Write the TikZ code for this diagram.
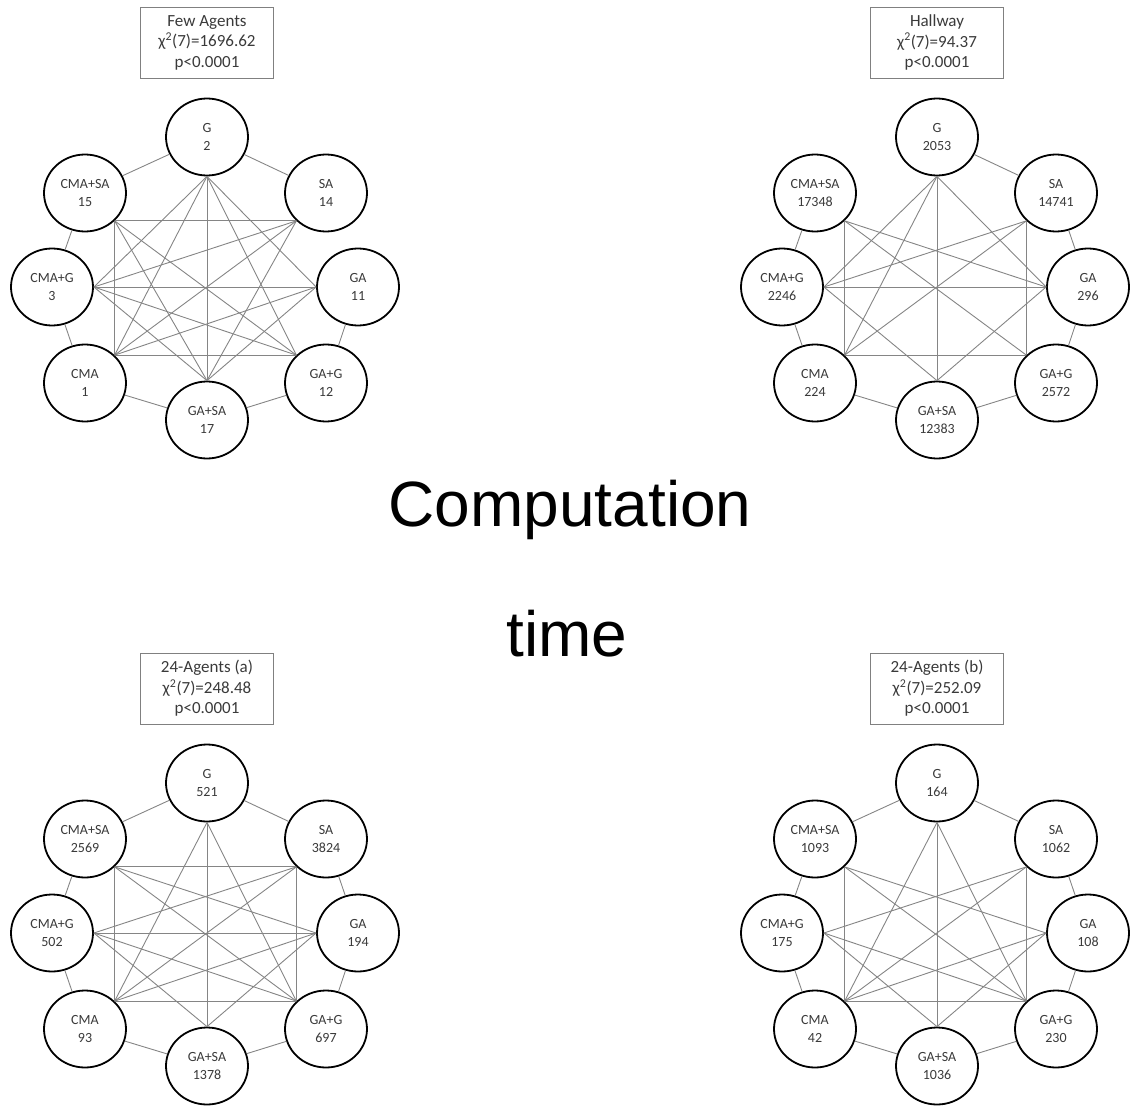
\documentclass[tikz,border=0pt]{standalone}
\usepackage{fontspec}
\setmainfont{Carlito}
\newfontfamily\bigsans{Liberation Sans}
\usetikzlibrary{shapes.geometric}
\definecolor{linkgray}{HTML}{858585}
\definecolor{boxgray}{HTML}{808080}
\definecolor{txtgray}{HTML}{3A3A3A}

\begin{document}
\begin{tikzpicture}[x=1pt, y=-1pt,
    every node/.style={text=txtgray},
    agent/.style={ellipse, draw=black, line width=1.8pt, fill=white, minimum width=82pt, minimum height=77pt, inner sep=0pt, align=center, font=\fontsize{14}{18}\selectfont},
    statbox/.style={draw=boxgray, line width=0.9pt, minimum width=133pt, minimum height=71pt, inner sep=0pt, align=center, font=\fontsize{17}{20.5}\selectfont},
    link/.style={draw=linkgray, line width=0.9pt}]
  \useasboundingbox (0,0) rectangle (1132,1110);
  % Four panels: stats box, then the eight agents round the ring
  \foreach \pfx/\ox/\oy/\ttl/\stat/\vg/\vsa/\vga/\vgag/\vgasa/\vcma/\vcmag/\vcmasa in {
      tl/0/0/{Few Agents}/1696.62/2/14/11/12/17/1/3/15,
      tr/730/0/{Hallway}/94.37/2053/14741/296/2572/12383/224/2246/17348,
      bl/0/646/{24-Agents (a)}/248.48/521/3824/194/697/1378/93/502/2569,
      br/730/646/{24-Agents (b)}/252.09/164/1062/108/230/1036/42/175/1093} {
    \begin{scope}[shift={(\ox,\oy)}, name prefix=\pfx-]
      \node[statbox] (title) at (207,42.5) {\ttl\\χ\textsuperscript{2}(7)=\stat\\p<0.0001};
      \node[agent] (g)     at (207,137) {G\\\vg};
      \node[agent] (sa)    at (326,193) {SA\\\vsa};
      \node[agent] (ga)    at (358,287) {GA\\\vga};
      \node[agent] (gag)   at (326,383) {GA+G\\\vgag};
      \node[agent] (gasa)  at (207,420) {GA+SA\\\vgasa};
      \node[agent] (cma)   at (85,383)  {CMA\\\vcma};
      \node[agent] (cmag)  at (52,287)  {CMA+G\\\vcmag};
      \node[agent] (cmasa) at (85,193)  {CMA+SA\\\vcmasa};
      % inner ends of the links
      \foreach \n/\anc in {g/south, sa/south west, ga/west, gag/north west, gasa/north, cma/north east, cmag/east, cmasa/south east}
        \coordinate (\n-in) at (\n.\anc);
    \end{scope}
  }
  % Few Agents: ring, then chords
  \begin{scope}[name prefix=tl-]
    \foreach \a/\b in {g/sa, ga/gag, gag/gasa, gasa/cma, cma/cmag, cmag/cmasa, cmasa/g}
      \draw[link] (\a) -- (\b);
    \foreach \a/\b in {cmasa/sa, cmasa/cma, cmasa/gasa, cmasa/gag, g/cmag, g/cma, g/gasa, g/gag, g/ga,
        sa/cmag, sa/cma, sa/gasa, cmag/ga, cmag/gag, cmag/gasa, cma/ga, cma/gag, gasa/ga}
      \draw[link] (\a-in) -- (\b-in);
  \end{scope}
  % Hallway
  \begin{scope}[name prefix=tr-]
    \foreach \a/\b in {g/sa, sa/ga, ga/gag, gag/gasa, gasa/cma, cma/cmag, cmag/cmasa}
      \draw[link] (\a) -- (\b);
    \foreach \a/\b in {cmasa/cma, cmasa/ga, cmasa/gag, g/cmag, g/cma, g/gasa, g/ga,
        sa/cmag, sa/cma, sa/gag, cmag/ga, cmag/gasa, cma/gag, gasa/ga}
      \draw[link] (\a-in) -- (\b-in);
  \end{scope}
  % 24-Agents (a)
  \begin{scope}[name prefix=bl-]
    \foreach \a/\b in {g/sa, sa/ga, ga/gag, gag/gasa, gasa/cma, cma/cmag, cmag/cmasa, cmasa/g}
      \draw[link] (\a) -- (\b);
    \foreach \a/\b in {cmasa/sa, cmasa/cma, cmasa/ga, cmasa/gag, g/cma, g/gasa, g/gag,
        sa/cmag, sa/cma, sa/gag, cmag/ga, cmag/gasa, cmag/gag, cma/ga, cma/gag, gasa/ga}
      \draw[link] (\a-in) -- (\b-in);
  \end{scope}
  % 24-Agents (b)
  \begin{scope}[name prefix=br-]
    \foreach \a/\b in {g/sa, sa/ga, ga/gag, gag/gasa, gasa/cma, cma/cmag, cmag/cmasa, cmasa/g}
      \draw[link] (\a) -- (\b);
    \foreach \a/\b in {cmasa/cma, cmasa/ga, cmasa/gag, g/cma, g/gasa, g/gag,
        sa/cmag, sa/cma, sa/gag, cmag/gasa, cmag/gag, cma/ga, cma/gag, gasa/ga}
      \draw[link] (\a-in) -- (\b-in);
  \end{scope}
  % Caption in the middle
  \node[font=\bigsans\fontsize{64}{64}\selectfont, text=black, anchor=base] (comp) at (570,526) {Computation};
  \node[font=\bigsans\fontsize{64}{64}\selectfont, text=black, anchor=base] (time) at (567,656) {time};
\end{tikzpicture}
\end{document}
